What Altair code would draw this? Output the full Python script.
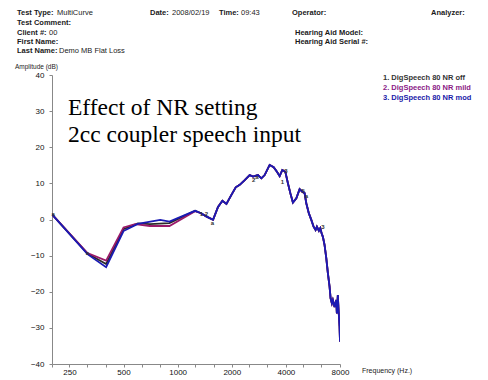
import altair as alt
import pandas as pd

# ---------------- data ----------------
series_names = ["1. DigSpeech 80 NR off", "2. DigSpeech 80 NR mild", "3. DigSpeech 80 NR mod"]
series_colors = ["#2b2b2b", "#9a1a6a", "#1a1ab4"]
legend_colors = ["#333333", "#8a1a86", "#1a1aa8"]

# low-frequency part differs between the three NR settings
off_freq = [200, 315, 400, 500, 600, 700, 900, 1250]
off_db = [1.4, -9.4, -12.3, -2.7, -1.1, -1.3, -1.0, 2.4]
mild_freq = [200, 315, 400, 500, 580, 700, 900, 1250]
mild_db = [1.4, -9.3, -11.4, -2.2, -1.3, -1.8, -1.8, 2.3]
mod_freq = [200, 315, 400, 500, 600, 800, 900, 1250]
mod_db = [1.4, -9.6, -13.2, -3.2, -1.2, -0.1, -0.6, 2.4]

# high-frequency part (curves overlap)
high_freq = [1340, 1450, 1574, 1677, 1774, 1868, 1991, 2104, 2214, 2361, 2516,
             2625, 2797, 2922, 3048, 3249, 3420, 3568, 3693, 3822, 3972, 4107,
             4234, 4377, 4572, 4770, 4936, 5084, 5195, 5370, 5540, 5704, 5853,
             5951, 6106, 6215, 6320, 6426, 6566, 6711, 6852, 7000, 7092, 7211,
             7300, 7460, 7625, 7684, 7782, 7852, 7955, 8000]
high_db = [1.8, 0.8, -0.1, 3.5, 5.2, 4.3, 6.8, 8.9, 9.6, 10.9, 12.3,
           11.9, 12.3, 11.4, 12.3, 15.1, 14.5, 13.2, 12.0, 13.7, 13.2, 10.0,
           7.3, 4.7, 5.9, 8.4, 7.7, 7.3, 4.5, 1.7, -0.1, -2.0, -2.9,
           -2.0, -3.1, -2.4, -3.8, -4.8, -7.1, -10.7, -14.9, -18.6, -21.8, -23.2,
           -22.3, -24.2, -22.3, -26.0, -20.9, -25.0, -29.7, -33.8]

# small curve markers printed on the original
marker_text = ["a", "a", "1 2", "a", "2", "a", "1", "3", "5", "a", "3"]
marker_freq = [203, 315, 1400, 1560, 2650, 2760, 3830, 4000, 4990, 5200, 6430]
marker_db = [1.6, -9.4, 1.4, -1.0, 10.9, 11.7, 10.5, 13.4, 7.9, 6.5, -2.2]

x_ticks = [250, 500, 1000, 2000, 4000, 8000]
x_minor = [200, 315, 400, 630, 800, 1250, 1600, 2500, 3150, 5000, 6300]
y_ticks = [-40, -30, -20, -10, 0, 10, 20, 30, 40]

rows = []
for name, fr, db in [(series_names[0], off_freq, off_db),
                     (series_names[1], mild_freq, mild_db),
                     (series_names[2], mod_freq, mod_db)]:
    for f, d in zip(fr + high_freq, db + high_db):
        rows.append({"series": name, "freq": f, "db": d})
df = pd.DataFrame(rows)
markers = pd.DataFrame({"t": marker_text, "freq": marker_freq, "db": marker_db})

W, H = 288, 289
PL, PT = 44, 67   # plot origin at page (52, 75)

xscale = alt.Scale(type="log", domain=[200, 8000], nice=False, zero=False)
yscale = alt.Scale(domain=[-40, 40], nice=False, zero=False)

xaxis = alt.Axis(values=sorted(x_ticks + x_minor), title=None,
                 labelExpr="indexof([250,500,1000,2000,4000,8000], datum.value) >= 0 ? datum.label : ''",
                 format="d", grid=False, tickSize=3, labelPadding=1,
                 domainColor="#888888", tickColor="#888888",
                 labelFont="Liberation Sans", labelFontSize=8,
                 labelColor="#111111", labelFlush=False, labelOverlap=False)
yaxis = alt.Axis(values=y_ticks, title=None, grid=False, tickSize=3,
                 labelPadding=5, domainColor="#888888", tickColor="#888888",
                 labelFont="Liberation Sans", labelFontSize=8,
                 labelColor="#111111", labelOverlap=False)

lines = alt.Chart(df).mark_line(strokeWidth=1.8, clip=True).encode(
    x=alt.X("freq:Q", scale=xscale, axis=xaxis),
    y=alt.Y("db:Q", scale=yscale, axis=yaxis),
    color=alt.Color("series:N", scale=alt.Scale(domain=series_names, range=series_colors),
                    legend=None),
    detail="series:N",
)

mk = alt.Chart(markers).mark_text(font="Liberation Sans", fontSize=6, color="#333333",
                                  fontWeight="bold").encode(
    x=alt.X("freq:Q", scale=xscale, axis=xaxis),
    y=alt.Y("db:Q", scale=yscale, axis=yaxis),
    text="t:N")

one = pd.DataFrame({"k": [0]})


def txt(s, px, py, size=7.5, bold=False, color="#1a1a1a", font="Liberation Sans", align="left"):
    return alt.Chart(one).mark_text(
        text=s, font=font, fontSize=size, fontWeight="bold" if bold else "normal",
        color=color, align=align, baseline="middle").encode(
        x=alt.value(px - 52), y=alt.value(py - 75))


texts = [
    txt("Test Type:", 17, 13, bold=True), txt("MultiCurve", 57, 13),
    txt("Test Comment:", 17, 23, bold=True),
    txt("Client #:", 17, 33, bold=True), txt("00", 49, 33),
    txt("First Name:", 17, 42, bold=True),
    txt("Last Name:", 17, 51, bold=True), txt("Demo MB Flat Loss", 59, 51),
    txt("Date:", 150, 13, bold=True), txt("2008/02/19", 172, 13),
    txt("Time:", 219, 13, bold=True), txt("09:43", 241, 13),
    txt("Operator:", 292, 13, bold=True),
    txt("Analyzer:", 431, 13, bold=True),
    txt("Hearing Aid Model:", 295, 33, bold=True),
    txt("Hearing Aid Serial #:", 295, 42, bold=True),
    txt("Amplitude (dB)", 15, 67, size=6.5),
    txt("Frequency (Hz.)", 362, 371, size=7),
    txt("Effect of NR setting", 68, 108, size=23.5, font="Liberation Serif", color="#000000"),
    txt("2cc coupler speech input", 68, 135, size=23.5, font="Liberation Serif", color="#000000"),
]
for i, (nm, c) in enumerate(zip(series_names, legend_colors)):
    texts.append(txt(nm, 383, 77.5 + i * 10.3, size=7.5, bold=True, color=c))

chart = alt.layer(lines, mk, *texts).properties(
    width=W, height=H,
    autosize=alt.AutoSizeParams(type="none"),
    padding={"left": PL, "top": PT, "right": 472 - PL - W, "bottom": 14},
).configure(background="white").configure_view(strokeWidth=0)

chart.save("out.html", embed_options={"renderer": "svg", "actions": False})
